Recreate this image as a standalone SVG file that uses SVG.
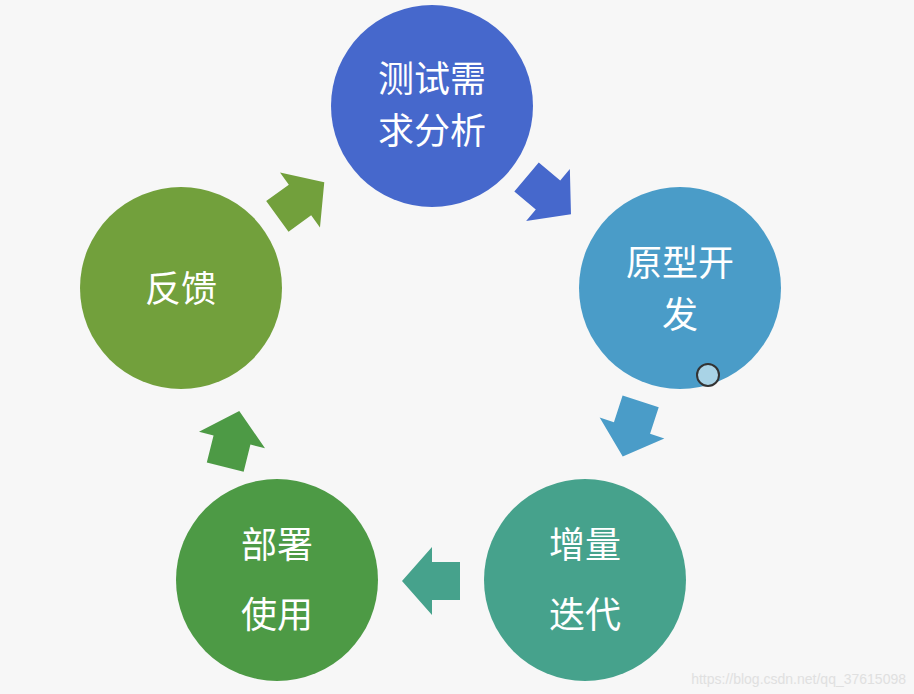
<svg xmlns="http://www.w3.org/2000/svg" width="914" height="694" viewBox="0 0 914 694">
<defs>
<style>
.t{font-family:"Noto Sans CJK SC","Noto Sans",sans-serif;font-size:36px;fill:#fff;text-anchor:middle}
</style>
<polygon id="arr" points="-28,-19 0,-19 0,-34 30,0 0,34 0,19 -28,19"/>
</defs>
<rect width="914" height="694" fill="#f7f7f7"/>
<g id="connectors">
<use href="#arr" fill="#4668cc" transform="translate(548,195) rotate(40)"/>
<use href="#arr" fill="#4a9cc8" transform="translate(632,428) rotate(108)"/>
<use href="#arr" fill="#46a28c" transform="translate(432,581) rotate(180)"/>
<use href="#arr" fill="#4d9a45" transform="translate(232,440) rotate(-76)"/>
<use href="#arr" fill="#72a03c" transform="translate(300,200) rotate(-36)"/>
</g>
<g id="n1"><circle cx="432" cy="106" r="101" fill="#4668cc"/><text class="t" x="432" y="92">测试需</text><text class="t" x="432" y="144">求分析</text></g>
<g id="n2"><circle cx="680" cy="288" r="101" fill="#4a9cc8"/><text class="t" x="680" y="276">原型开</text><text class="t" x="680" y="328">发</text></g>
<g id="n3"><circle cx="585" cy="580" r="101" fill="#46a28c"/><text class="t" x="585" y="558">增量</text><text class="t" x="585" y="628">迭代</text></g>
<g id="n4"><circle cx="277" cy="580" r="101" fill="#4d9a45"/><text class="t" x="277" y="558">部署</text><text class="t" x="277" y="628">使用</text></g>
<g id="n5"><circle cx="181" cy="288" r="101" fill="#72a03c"/><text class="t" x="181" y="302">反馈</text></g>
<circle cx="708" cy="375" r="11" fill="#a9d3e6" stroke="#333" stroke-width="2"/>
<text x="906" y="684" font-family="Liberation Sans,sans-serif" font-size="14" fill="#e0e0e0" text-anchor="end">https://blog.csdn.net/qq_37615098</text>
</svg>
